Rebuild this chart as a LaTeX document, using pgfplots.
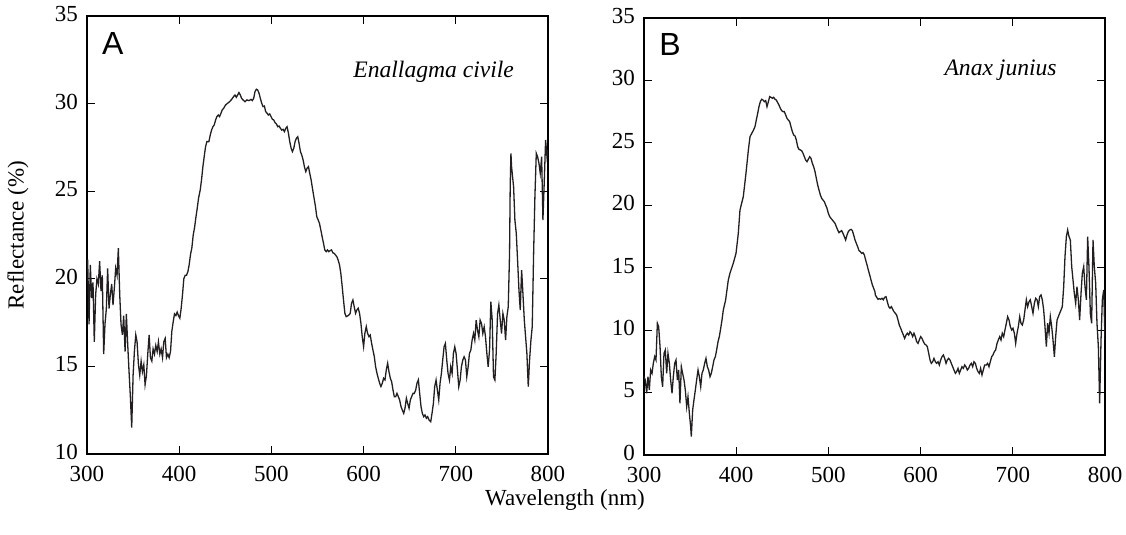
\documentclass[border=0pt]{standalone}
\usepackage{fontspec}
\setmainfont{Liberation Serif}
\newfontfamily\arial{Liberation Sans}
\usepackage{pgfplots}
\pgfplotsset{compat=1.18}
\definecolor{curve}{RGB}{35,31,32}
\pgfplotsset{refax/.style={
  scale only axis, width=230.5pt,
  xmin=300, xmax=800, xtick={300,400,...,800},
  tick align=inside, major tick length=4pt,
  axis line style={line width=0.6pt, black},
  tick style={line width=0.6pt, black},
  ticklabel style={font=\fontsize{11.5}{13}\selectfont},
  xticklabel style={yshift=-2.5pt},
  yticklabel style={xshift=-1pt, yshift=1pt},
  /pgf/number format/assume math mode=true,
  clip=true,
}}
\begin{document}
\begin{tikzpicture}
\useasboundingbox (-43.5pt,-40.5pt) rectangle (519.5pt,227pt);
\begin{axis}[refax, height=219pt, at={(0pt,0pt)}, anchor=south west,
  ymin=10, ymax=35, ytick={10,15,...,35}]
\addplot[line width=0.65pt, color=curve] table {
x y
300.7 21.1
302.2 17.4
303.6 20.8
305.1 18.9
306.5 19.8
307.9 16.4
309.4 19.1
310.8 20.0
312.3 19.7
313.7 21.0
315.2 19.3
316.6 20.2
318.1 15.7
319.5 17.4
321.0 18.3
322.4 20.6
323.9 18.3
325.3 19.1
326.8 19.7
328.2 18.5
329.7 19.5
331.1 20.6
332.6 20.2
334.0 21.75
335.5 19.1
336.9 17.4
338.4 16.8
339.8 17.9
341.3 15.85
342.7 18.0
344.2 16.2
345.6 14.7
347.1 13.2
348.5 11.5
350.0 14.5
351.4 15.85
352.9 16.8
354.3 16.4
355.8 15.1
357.2 14.5
358.7 15.3
360.1 14.7
361.6 15.1
363.0 13.95
364.5 14.5
365.9 15.7
367.4 16.8
368.8 15.5
370.3 15.3
371.7 16.0
373.2 15.7
374.6 16.2
376.1 15.85
377.5 16.4
379.0 15.7
380.4 16.0
381.9 15.5
383.3 16.4
384.8 16.6
386.2 15.5
387.7 15.7
389.1 15.5
390.6 15.85
392.0 17.0
393.5 17.55
394.9 18.0
396.4 17.9
397.8 18.1
399.2 17.9
400.7 17.75
402.1 18.3
403.6 19.1
405.0 20.0
406.5 20.2
407.9 20.2
409.4 20.4
410.8 20.8
412.3 21.4
413.7 21.75
415.2 22.5
416.6 22.9
418.1 23.5
419.5 24.0
421.0 24.6
422.8 25.07
424.2 25.64
425.7 26.40
427.1 26.97
428.6 27.54
430.0 27.83
432.2 27.83
433.7 28.21
435.1 28.49
436.6 28.68
438.0 28.78
439.5 29.07
440.9 29.26
442.4 29.35
443.8 29.26
445.3 29.45
446.7 29.64
448.2 29.73
450.3 29.92
452.5 30.02
454.7 30.11
456.9 30.24
459.0 30.40
460.5 30.49
461.9 30.36
463.4 30.49
464.8 30.63
466.3 30.49
467.7 30.30
469.2 30.21
471.4 30.11
473.5 30.21
475.7 30.17
477.9 30.24
479.3 30.17
480.8 30.30
482.2 30.68
483.7 30.82
485.1 30.78
486.6 30.59
488.0 30.30
489.5 30.02
490.9 29.83
492.4 29.86
493.8 29.54
495.3 29.45
496.7 29.35
498.2 29.41
499.6 29.26
501.1 29.10
502.5 29.07
504.0 28.91
505.4 28.84
506.9 28.68
508.3 28.72
509.8 28.59
511.2 28.49
512.7 28.53
514.1 28.40
515.6 28.59
517.0 28.68
518.5 28.30
519.9 27.83
521.4 27.45
522.8 27.26
524.3 27.45
525.7 27.83
527.1 28.02
528.6 28.11
530.0 27.73
531.5 27.26
532.9 27.07
534.4 26.78
535.8 26.40
537.3 26.12
538.7 26.31
540.2 26.40
541.6 26.02
543.1 25.64
544.5 25.17
546.0 24.69
547.8 24.12
549.2 23.55
550.7 23.36
552.1 23.17
553.6 22.79
555.0 22.41
556.5 22.03
557.9 21.65
559.4 21.55
560.8 21.65
562.3 21.55
563.7 21.61
565.2 21.65
566.6 21.49
568.1 21.45
569.5 21.36
571.0 21.26
572.4 21.07
573.9 20.79
575.3 20.31
576.8 19.55
578.2 18.79
579.7 18.03
581.1 17.84
582.6 17.88
584.0 17.93
585.5 18.03
586.9 18.60
588.4 18.79
589.8 18.41
591.3 18.03
592.7 18.22
594.2 18.32
595.6 18.03
597.1 17.46
598.5 16.70
600.0 16.13
601.4 16.89
602.9 17.27
604.3 16.89
605.8 16.70
607.2 16.79
608.7 16.32
610.1 15.94
611.6 15.56
613.0 14.99
614.5 14.61
615.9 14.32
617.4 14.04
618.8 13.85
620.3 14.04
621.7 14.32
623.2 14.23
624.6 14.80
626.1 15.18
627.5 14.70
629.0 14.32
630.4 14.13
631.9 13.65
633.3 13.27
634.8 13.27
636.2 13.46
637.7 13.27
639.1 13.08
640.6 12.70
642.0 12.51
643.5 12.32
644.9 12.61
646.4 13.18
647.8 12.89
649.3 12.61
650.7 13.08
652.1 13.27
653.6 13.46
655.0 13.46
656.5 13.65
657.9 14.04
659.4 14.23
660.8 13.46
662.3 12.70
663.7 12.32
665.2 12.13
666.6 12.23
668.1 12.04
669.5 12.13
671.0 11.94
672.8 11.84
674.2 12.32
675.7 12.89
677.1 13.84
678.6 14.22
680.0 13.65
681.5 13.08
682.9 14.03
684.4 14.60
685.8 15.36
687.3 16.12
688.7 16.31
690.2 15.36
691.6 14.60
693.1 14.22
694.5 14.98
696.0 14.60
697.4 15.74
698.9 16.12
700.3 15.74
701.8 14.79
703.2 13.84
704.7 14.22
706.1 14.98
707.6 15.36
709.0 15.55
710.5 15.36
711.9 14.41
713.4 14.98
714.8 15.74
716.3 15.93
717.7 16.50
719.2 16.88
720.6 16.50
722.1 17.64
723.5 17.07
725.0 16.69
726.4 17.64
727.9 17.45
729.3 16.88
730.8 17.26
732.2 16.69
733.7 15.74
735.1 14.98
736.6 15.93
738.0 18.69
739.5 17.64
740.9 14.41
742.4 14.22
743.8 15.74
745.3 18.02
746.7 18.50
748.2 17.64
749.6 16.88
751.1 18.02
752.5 17.64
754.0 16.50
755.4 17.83
756.9 18.41
758.3 21.45
759.0 25.25
759.8 27.16
760.5 26.40
761.2 26.02
762.7 25.25
764.1 23.35
765.6 22.59
767.0 21.07
768.5 19.36
769.9 18.22
771.4 20.50
772.8 19.17
774.3 17.64
775.7 16.69
777.1 15.74
778.6 13.84
780.0 15.36
781.5 16.50
782.9 17.26
784.4 21.45
785.8 24.68
787.3 27.16
788.7 26.97
790.2 26.59
791.6 26.02
793.1 26.97
794.5 23.35
796.0 25.63
797.4 27.92
798.9 26.97
800.0 27.35
};
\node[anchor=base west, inner sep=0pt, font=\arial\fontsize{16}{18}\selectfont] at (axis cs:316,32.8) {A};
\node[anchor=base east, inner sep=0pt, font=\itshape\fontsize{11.8}{13}\selectfont] at (axis cs:763.5,31.5) {Enallagma civile};
\end{axis}
\begin{axis}[refax, height=218.5pt, at={(278.5pt,-0.5pt)}, anchor=south west,
  ymin=0, ymax=35, ytick={0,5,...,35}]
\addplot[line width=0.65pt, color=curve] table {
x y
300.0 6.27
301.4 6.01
302.9 4.94
304.3 6.27
305.8 5.21
307.2 6.81
308.7 6.54
310.1 7.34
311.6 7.88
313.0 7.61
314.5 10.55
315.9 10.28
317.4 8.68
318.8 6.27
320.2 5.47
321.7 8.14
323.1 8.41
324.6 6.54
326.0 8.14
327.5 7.34
328.9 6.01
330.4 4.94
331.8 6.27
333.3 7.34
334.7 7.61
336.2 6.01
337.6 6.81
339.0 4.14
340.5 7.07
341.9 6.54
343.4 6.01
344.8 5.21
346.3 3.87
347.7 4.67
349.2 3.34
350.6 2.27
351.3 1.47
352.8 3.61
354.2 4.41
355.7 5.21
357.1 6.01
358.6 6.81
360.0 6.27
361.5 5.47
362.9 6.54
364.3 6.81
365.8 7.34
367.2 7.74
368.7 7.07
370.1 6.81
371.6 6.27
373.0 6.54
374.5 7.07
375.9 7.61
377.4 7.88
378.8 8.41
380.3 9.08
381.7 9.48
383.2 10.15
384.6 10.81
386.0 11.61
388.5 12.4
391.4 14.0
393.2 14.55
396.8 15.35
399.8 16.15
402.3 17.76
404.1 19.62
407.7 20.69
410.6 22.56
413.2 24.43
415.0 25.5
418.6 26.0
420.4 26.30
421.8 26.83
423.3 27.36
424.7 27.90
426.2 28.30
427.6 28.49
429.1 28.43
430.5 28.30
432.0 28.38
433.4 27.90
434.9 28.30
436.3 28.70
437.7 28.65
439.2 28.57
440.6 28.65
442.1 28.49
443.5 28.43
445.0 28.22
446.4 28.03
447.9 27.76
449.3 27.58
450.8 27.50
452.2 27.50
453.7 27.23
455.1 26.96
456.5 26.83
458.0 26.70
459.4 26.30
460.9 25.90
462.3 25.63
463.8 25.55
465.2 25.23
466.7 24.69
468.1 24.48
469.6 24.43
471.0 24.37
472.5 24.16
473.9 23.89
475.3 23.63
476.8 23.49
478.2 23.68
479.7 23.89
481.1 23.76
482.6 23.36
484.0 23.09
485.5 22.69
486.9 22.16
488.4 21.62
489.8 21.22
491.3 20.82
492.7 20.56
494.1 20.42
495.6 20.29
497.0 20.02
498.5 19.76
499.9 19.36
501.4 19.09
502.8 18.95
504.3 18.82
505.7 18.69
507.2 18.55
508.6 18.29
510.1 18.02
511.5 17.81
512.9 17.89
514.4 17.97
515.8 17.75
517.3 17.49
518.7 17.22
520.2 17.62
521.6 17.89
523.1 18.02
524.5 18.07
526.0 17.97
527.4 17.62
528.9 17.22
530.3 16.95
531.7 16.69
533.2 16.37
534.6 16.29
536.1 16.15
537.5 16.21
539.0 16.02
540.4 15.62
541.9 15.22
543.3 14.82
544.8 14.42
546.2 14.02
547.7 13.62
549.1 13.35
550.5 13.08
550.9 12.82
552.4 12.63
553.8 12.47
555.2 12.52
556.7 12.47
558.1 12.55
559.6 12.43
561.0 12.63
562.5 12.68
563.9 12.28
565.4 11.88
566.8 11.75
568.3 11.88
569.7 11.67
571.1 11.48
572.6 11.35
574.0 11.21
575.5 10.81
576.9 10.41
578.4 10.15
579.8 9.88
581.3 9.61
582.7 9.34
584.2 9.61
585.6 9.75
587.1 9.61
588.5 9.88
589.9 9.75
591.4 9.48
592.8 9.75
594.3 9.48
595.7 9.08
597.2 8.94
598.6 9.21
600.1 9.48
601.5 9.34
603.0 9.08
604.4 8.89
605.9 8.81
607.3 8.68
608.8 8.14
610.2 7.61
611.6 7.34
613.1 7.47
614.5 7.74
616.0 7.47
617.4 7.34
618.9 7.47
620.3 7.21
621.8 7.61
623.2 7.87
624.7 8.01
626.1 7.74
627.6 7.34
629.0 7.61
630.4 7.74
631.9 7.61
633.3 7.34
634.8 7.07
636.2 6.81
637.7 6.54
639.1 6.67
640.6 6.94
642.0 6.54
643.5 6.81
644.9 7.07
646.4 6.94
647.8 7.21
649.2 7.07
650.7 6.81
652.1 6.94
653.6 7.21
655.0 7.34
656.5 7.07
657.9 7.47
659.4 7.34
660.8 6.94
662.3 6.67
663.7 6.54
665.1 6.94
666.6 6.41
668.0 6.81
669.5 7.21
671.3 7.21
672.7 7.34
674.2 7.07
675.6 7.47
677.1 7.87
678.5 8.01
680.0 8.28
681.4 8.41
682.9 8.94
684.3 9.21
685.8 9.48
687.2 9.21
688.6 9.75
690.1 9.48
691.5 10.01
693.0 10.55
694.4 11.08
695.9 10.81
697.3 10.28
698.8 10.01
700.2 10.15
701.7 9.75
703.1 8.94
704.6 9.75
706.0 10.28
707.5 11.08
708.9 10.55
710.3 10.41
711.8 10.81
713.2 11.61
714.7 12.43
716.1 11.88
717.6 12.28
719.0 12.43
720.5 11.88
721.9 11.35
723.4 12.15
724.8 12.55
726.3 12.43
727.7 11.88
729.1 12.68
730.6 12.82
732.0 12.43
733.5 11.61
734.9 10.28
736.4 8.68
737.8 10.55
739.3 9.75
740.7 11.08
742.2 10.28
743.6 9.21
745.1 7.87
746.5 9.48
748.0 10.81
749.4 11.08
750.8 11.35
752.3 11.61
753.7 11.88
755.2 13.48
756.6 15.88
758.1 17.49
759.5 18.02
760.2 17.75
761.0 17.49
762.4 17.22
763.9 15.08
765.3 14.02
766.7 12.95
768.2 12.15
769.6 13.48
771.1 12.43
772.5 10.81
774.0 12.95
775.4 14.55
776.9 15.08
778.3 13.48
779.8 12.43
781.2 17.49
782.6 15.08
784.1 11.35
785.5 10.55
787.0 17.22
788.4 15.08
789.9 13.75
791.3 10.55
792.8 8.68
794.2 4.14
795.7 9.21
797.1 12.43
798.6 13.22
800.0 9.21
};
\node[anchor=base west, inner sep=0pt, font=\arial\fontsize{16}{18}\selectfont] at (axis cs:316.3,31.96) {B};
\node[anchor=base east, inner sep=0pt, font=\itshape\fontsize{11.8}{13}\selectfont] at (axis cs:748,30.43) {Anax junius};
\end{axis}
\node[rotate=90, font=\fontsize{11.5}{13}\selectfont] at (-34.5pt,109.5pt) {Reflectance (\%)};
\node[font=\fontsize{11.5}{13}\selectfont] at (239pt,-23pt) {Wavelength (nm)};
\end{tikzpicture}
\end{document}
